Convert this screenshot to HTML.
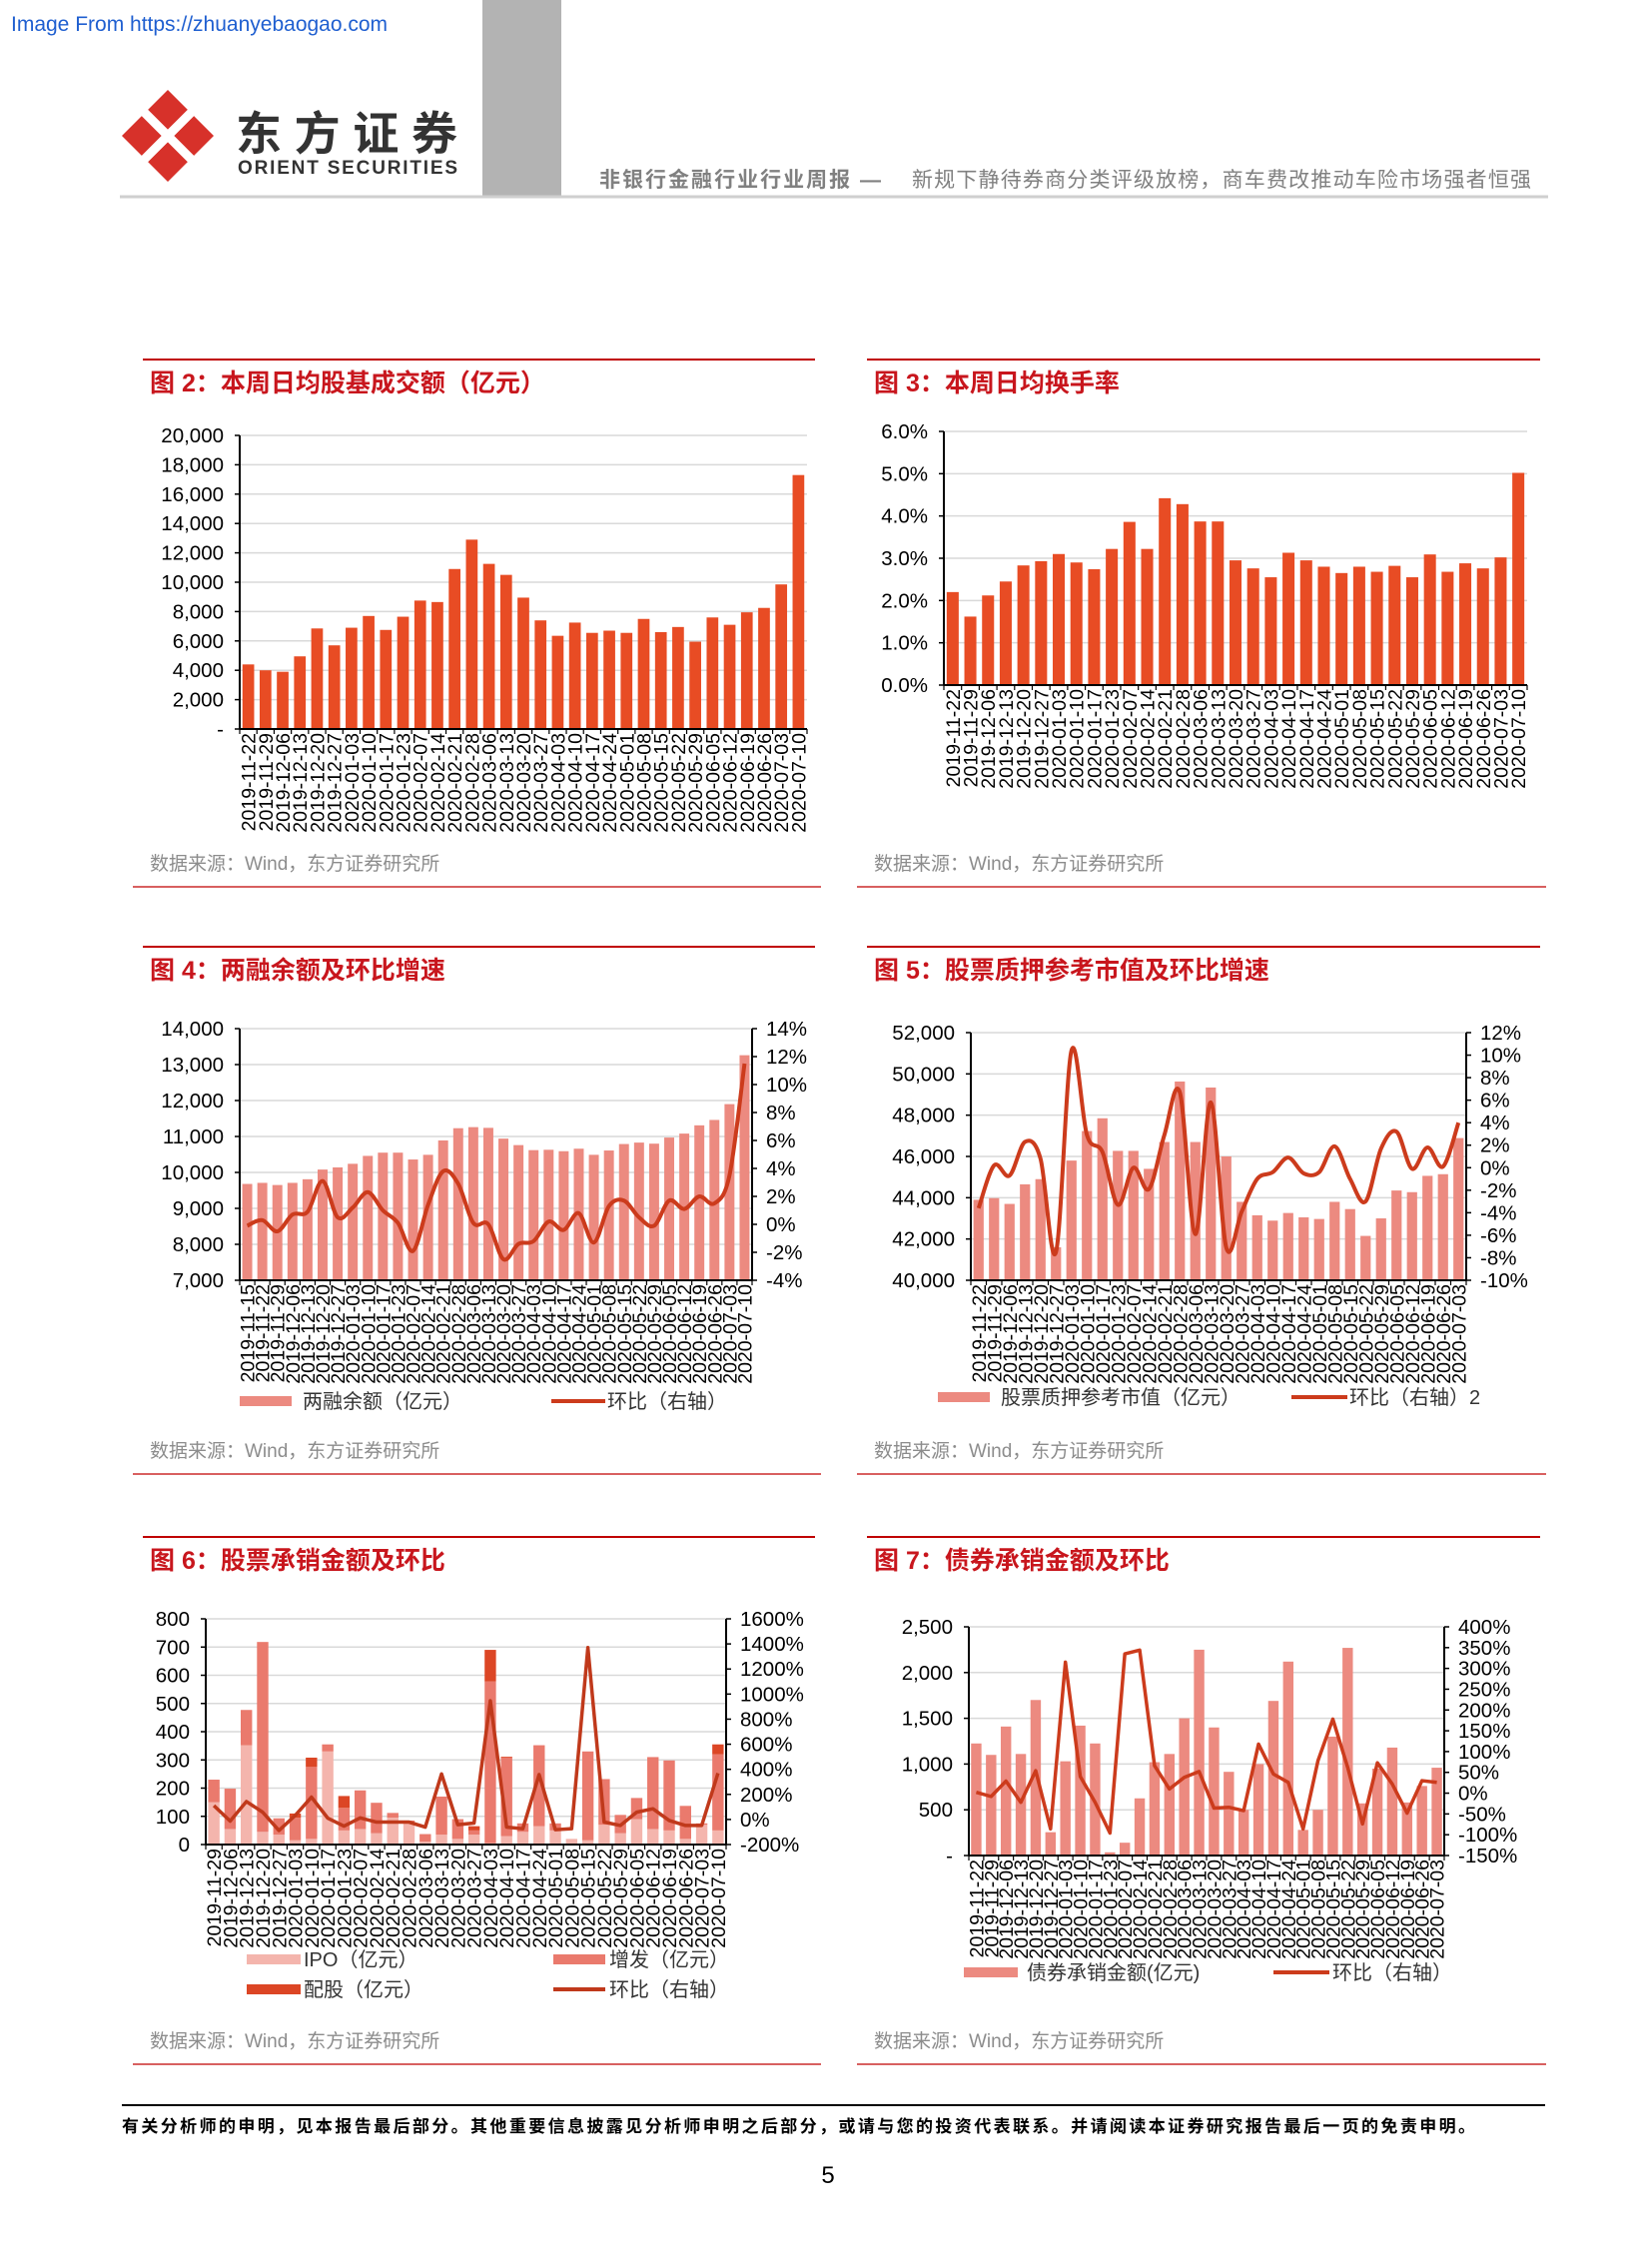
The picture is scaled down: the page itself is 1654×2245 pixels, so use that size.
<!DOCTYPE html>
<html><head><meta charset="utf-8"><title>东方证券 非银行金融行业周报 第5页</title>
<style>
html,body{margin:0;padding:0;background:#fff;}
#page{position:relative;width:1654px;height:2245px;overflow:hidden;background:#fff;}
svg text{font-family:"Liberation Sans","Noto Sans CJK SC",sans-serif;}
</style></head>
<body>
<div id="page">
<svg id="svg" width="1654" height="2245" viewBox="0 0 1654 2245" xmlns="http://www.w3.org/2000/svg">
  <text x="11" y="31" font-size="21" fill="#1f5fd0">Image From https://zhuanyebaogao.com</text>
  <rect x="483" y="0" width="79" height="196" fill="#b3b3b3"/>
  <g>
    <polygon points="168,90 214,136 168,182 122,136" fill="#d7312a"/>
    <line x1="138" y1="106" x2="198" y2="166" stroke="#fff" stroke-width="9"/>
    <line x1="198" y1="106" x2="138" y2="166" stroke="#fff" stroke-width="9"/>
  </g>
  <text x="236" y="150" font-size="46" font-weight="bold" fill="#333" textLength="222">东方证券</text>
  <text x="238" y="174" font-size="19" font-weight="bold" fill="#333" textLength="220">ORIENT SECURITIES</text>
  <text x="600" y="187" font-size="21" font-weight="bold" fill="#808080" textLength="282">非银行金融行业行业周报 —</text>
  <text x="913" y="187" font-size="21" fill="#808080" textLength="620">新规下静待券商分类评级放榜，商车费改推动车险市场强者恒强</text>
  <line x1="120" y1="197" x2="1550" y2="197" stroke="#cfcfcf" stroke-width="3"/>
  <line x1="122" y1="2108" x2="1547" y2="2108" stroke="#000" stroke-width="2"/>
  <text x="122" y="2135" font-size="17" font-weight="bold" fill="#000" textLength="1355">有关分析师的申明，见本报告最后部分。其他重要信息披露见分析师申明之后部分，或请与您的投资代表联系。并请阅读本证券研究报告最后一页的免责申明。</text>
  <text x="829" y="2186" font-size="24" fill="#000" text-anchor="middle">5</text>
</svg>
</div>
<script>
// ---------- data ----------
const c2Cats = ["2019-11-22","2019-11-29","2019-12-06","2019-12-13","2019-12-20","2019-12-27","2020-01-03","2020-01-10","2020-01-17","2020-01-23","2020-02-07","2020-02-14","2020-02-21","2020-02-28","2020-03-06","2020-03-13","2020-03-20","2020-03-27","2020-04-03","2020-04-10","2020-04-17","2020-04-24","2020-05-01","2020-05-08","2020-05-15","2020-05-22","2020-05-29","2020-06-05","2020-06-12","2020-06-19","2020-06-26","2020-07-03","2020-07-10"];
const c2Values = [4400,4000,3900,4950,6850,5700,6900,7700,6750,7650,8750,8650,10900,12900,11250,10500,8950,7400,6350,7250,6550,6700,6550,7500,6600,6950,5950,7600,7100,7950,8250,9850,17300];
const c2Ticks = [0,2000,4000,6000,8000,10000,12000,14000,16000,18000,20000];

const c3Cats = c2Cats.slice();
const c3Values = [2.2,1.62,2.12,2.45,2.83,2.93,3.1,2.9,2.74,3.22,3.86,3.22,4.42,4.28,3.87,3.87,2.95,2.76,2.55,3.13,2.95,2.8,2.65,2.8,2.68,2.82,2.55,3.09,2.68,2.88,2.76,3.02,5.02];
const c3Ticks = [0,1,2,3,4,5,6];

const c4Cats = ["2019-11-15","2019-11-22","2019-11-29","2019-12-06","2019-12-13","2019-12-20","2019-12-27","2020-01-03","2020-01-10","2020-01-17","2020-01-23","2020-02-07","2020-02-14","2020-02-21","2020-02-28","2020-03-06","2020-03-13","2020-03-20","2020-03-27","2020-04-03","2020-04-10","2020-04-17","2020-04-24","2020-05-01","2020-05-08","2020-05-15","2020-05-22","2020-05-29","2020-06-05","2020-06-12","2020-06-19","2020-06-26","2020-07-03","2020-07-10"];
const c4Balance = [9680,9710,9650,9710,9810,10080,10140,10240,10460,10550,10550,10360,10490,10890,11230,11260,11240,10940,10760,10620,10630,10590,10660,10490,10610,10790,10830,10800,10970,11080,11310,11460,11900,13260];
const c4Growth = [-0.1,0.3,-0.5,0.7,0.9,3.1,0.5,1.2,2.3,1.0,0.1,-1.9,1.4,3.8,2.9,0.1,0,-2.5,-1.4,-1.2,0.2,-0.4,0.8,-1.3,1.3,1.7,0.5,-0.1,1.7,1.1,2.0,1.5,3.5,11.5];
const c4LeftTicks = [7000,8000,9000,10000,11000,12000,13000,14000];
const c4RightTicks = [-4,-2,0,2,4,6,8,10,12,14];

const c5Cats = c2Cats.slice(0,32);
const c5Value = [43900,43980,43700,44650,44900,41600,45800,47230,47850,46270,46270,45400,46700,49630,46700,49340,46000,43800,43150,42890,43260,43050,42970,43800,43450,42150,43000,44350,44270,45060,45140,46890];
const c5Growth = [-3.6,0.2,-0.7,2.3,0.8,-7.5,10.4,2.9,1.4,-3.3,0,-1.9,2.9,6.7,-5.9,5.8,-7.1,-3.9,-1.0,-0.4,0.9,-0.5,-0.4,1.9,-1.0,-3.0,1.7,3.2,-0.1,1.8,0.1,4.0];
const c5LeftTicks = [40000,42000,44000,46000,48000,50000,52000];
const c5RightTicks = [-10,-8,-6,-4,-2,0,2,4,6,8,10,12];

const c6Cats = c2Cats.slice(1);
const c6Ipo = [150,55,352,45,35,15,20,330,50,55,40,95,80,10,35,20,35,5,30,45,65,50,20,15,70,40,90,55,50,20,70,50];
const c6Add = [80,143,125,673,58,80,255,25,80,137,108,17,5,27,135,70,15,573,278,30,287,25,0,315,162,65,75,255,248,117,5,270];
const c6Rights = [0,0,0,0,0,15,33,0,42,0,0,0,0,0,0,0,15,112,3,0,0,0,0,0,0,0,0,0,0,0,0,35];
const c6Growth = [111,-13,143,58,-88,32,178,11,-53,13,-21,-21,-21,-61,363,-42,-29,947,-61,-74,358,-82,-74,1371,-21,-48,58,85,-8,-48,-48,369];
const c6LeftTicks = [0,100,200,300,400,500,600,700,800];
const c6RightTicks = [-200,0,200,400,600,800,1000,1200,1400,1600];

const c7Cats = c2Cats.slice(0,32);
const c7Amount = [1225,1100,1410,1110,1700,255,1030,1420,1225,35,140,625,1020,1110,1500,2250,1400,915,500,1000,1690,2120,280,500,1300,2270,570,950,1180,580,760,960];
const c7Growth = [2,-8,29,-22,54,-86,315,40,-22,-96,335,344,66,10,38,52,-36,-34,-42,118,46,26,-86,78,178,62,-74,73,22,-48,30,26];
const c7LeftTicks = [0,500,1000,1500,2000,2500];
const c7RightTicks = [-150,-100,-50,0,50,100,150,200,250,300,350,400];

// ---------- drawing ----------
const NS = "http://www.w3.org/2000/svg";
const svg = document.getElementById('svg');
function mk(tag, parent){ const e=document.createElementNS(NS,tag); parent.appendChild(e); return e; }
function comma(v){ return v.toLocaleString('en-US'); }
function scale(d0,d1,r0,r1){ return v => r0 + (v-d0)/(d1-d0)*(r1-r0); }

function panel(name, titleText, left, right, topY){
  const g = mk('g', svg);
  
  
  const tl = mk('line', g);
  tl.setAttribute('x1', left+10); tl.setAttribute('x2', right-6); tl.setAttribute('y1', topY); tl.setAttribute('y2', topY);
  tl.setAttribute('stroke', '#c00000'); tl.setAttribute('stroke-width', '2');
  
  
  const t = mk('text', g);
  t.setAttribute('x', left+17); t.setAttribute('y', topY+32);
  t.setAttribute('font-size', '25'); t.setAttribute('font-weight', 'bold'); t.setAttribute('fill', '#c8161d');
  t.textContent = titleText;
  
  
  const s = mk('text', g);
  s.setAttribute('x', left+17); s.setAttribute('y', topY+511);
  s.setAttribute('font-size', '19'); s.setAttribute('fill', '#8c8c8c');
  s.textContent = '数据来源：Wind，东方证券研究所';
  
  
  const bl = mk('line', g);
  bl.setAttribute('x1', left); bl.setAttribute('x2', right); bl.setAttribute('y1', topY+528); bl.setAttribute('y2', topY+528);
  bl.setAttribute('stroke', '#c00000'); bl.setAttribute('stroke-width', '1.3');
  
  
  return g;
}

function axesChart(g, cfg){
  const y = scale(cfg.lTicks[0], cfg.lTicks[cfg.lTicks.length-1], cfg.yb, cfg.yt);
  const n = cfg.cats.length, band = (cfg.x1-cfg.x0)/n;
  const xc = i => cfg.x0 + band*(i+0.5);
  cfg.lTicks.forEach(v=>{
    const yy = y(v);
    if (v !== cfg.lTicks[0]) {
      const gl = mk('line', g);
      gl.setAttribute('x1', cfg.x0); gl.setAttribute('x2', cfg.x1); gl.setAttribute('y1', yy); gl.setAttribute('y2', yy);
      gl.setAttribute('stroke', '#d9d9d9'); gl.setAttribute('stroke-width', '1.5');
      
      
    }
    const tk = mk('line', g);
    tk.setAttribute('x1', cfg.x0-5); tk.setAttribute('x2', cfg.x0); tk.setAttribute('y1', yy); tk.setAttribute('y2', yy);
    tk.setAttribute('stroke', '#000'); tk.setAttribute('stroke-width', '1.5');
    
    
    const tl = mk('text', g);
    tl.setAttribute('x', cfg.x0-16); tl.setAttribute('y', yy+7);
    tl.setAttribute('font-size', '20.5'); tl.setAttribute('text-anchor', 'end'); tl.setAttribute('fill', '#000');
    tl.textContent = cfg.lFmt(v);
    
    
  });
  const stackBase = new Array(n).fill(cfg.lTicks[0]);
  cfg.bars.forEach((ser)=>{
    ser.values.forEach((v,i)=>{
      if (v <= 0 && cfg.lTicks[0] === 0) { return; }
      const b0 = stackBase[i], b1 = (cfg.lTicks[0]===0 ? b0 + v : v);
      const r = mk('rect', g);
      r.setAttribute('x', xc(i) - band*cfg.bw/2); r.setAttribute('width', band*cfg.bw);
      r.setAttribute('y', y(b1)); r.setAttribute('height', Math.max(0, y(b0)-y(b1)));
      r.setAttribute('fill', ser.color);
      
      
      if (cfg.lTicks[0]===0) stackBase[i] = b1;
    });
  });
  const ax = mk('line', g);
  ax.setAttribute('x1', cfg.x0); ax.setAttribute('x2', cfg.x0); ax.setAttribute('y1', cfg.yt); ax.setAttribute('y2', cfg.yb);
  ax.setAttribute('stroke', '#000'); ax.setAttribute('stroke-width', '2');
  
  
  const xa = mk('line', g);
  xa.setAttribute('x1', cfg.x0); xa.setAttribute('x2', cfg.x1); xa.setAttribute('y1', cfg.yb); xa.setAttribute('y2', cfg.yb);
  xa.setAttribute('stroke', '#000'); xa.setAttribute('stroke-width', '2');
  
  
  for (let i=0;i<=n;i++){
    const t = mk('line', g);
    t.setAttribute('x1', cfg.x0+band*i); t.setAttribute('x2', cfg.x0+band*i); t.setAttribute('y1', cfg.yb); t.setAttribute('y2', cfg.yb+5);
    t.setAttribute('stroke', '#000'); t.setAttribute('stroke-width', '1.2');
    
    
  }
  cfg.cats.forEach((c,i)=>{
    const t = mk('text', g);
    const tx = xc(i)+7, ty = cfg.yb+4;
    t.setAttribute('x', tx); t.setAttribute('y', ty);
    t.setAttribute('transform', `rotate(-90 ${tx} ${ty})`);
    t.setAttribute('font-size', '19.5'); t.setAttribute('text-anchor', 'end'); t.setAttribute('fill', '#000');
    t.textContent = c;
    
    
  });
  if (cfg.line){
    const ry = scale(cfg.rTicks[0], cfg.rTicks[cfg.rTicks.length-1], cfg.yb, cfg.yt);
    const ra = mk('line', g);
    ra.setAttribute('x1', cfg.x1); ra.setAttribute('x2', cfg.x1); ra.setAttribute('y1', cfg.yt); ra.setAttribute('y2', cfg.yb);
    ra.setAttribute('stroke', '#000'); ra.setAttribute('stroke-width', '2');
    
    
    cfg.rTicks.forEach(v=>{
      const yy = ry(v);
      const tk = mk('line', g);
      tk.setAttribute('x1', cfg.x1); tk.setAttribute('x2', cfg.x1+5); tk.setAttribute('y1', yy); tk.setAttribute('y2', yy);
      tk.setAttribute('stroke', '#000'); tk.setAttribute('stroke-width', '1.5');
      
      
      const tl = mk('text', g);
      tl.setAttribute('x', cfg.x1+14); tl.setAttribute('y', yy+7);
      tl.setAttribute('font-size', '20.5'); tl.setAttribute('fill', '#000');
      tl.textContent = v + '%';
      
      
    });
    const pts = cfg.line.map((v,i)=>[xc(i), ry(v)]);
    let d = 'M' + pts[0][0] + ',' + pts[0][1];
    for (let i=1;i<pts.length;i++){
      if (cfg.smooth){
        const p0 = pts[Math.max(0,i-2)], p1 = pts[i-1], p2 = pts[i], p3 = pts[Math.min(pts.length-1,i+1)];
        const c1x = p1[0]+(p2[0]-p0[0])/6, c1y = p1[1]+(p2[1]-p0[1])/6;
        const c2x = p2[0]-(p3[0]-p1[0])/6, c2y = p2[1]-(p3[1]-p1[1])/6;
        d += ` C${c1x},${c1y} ${c2x},${c2y} ${p2[0]},${p2[1]}`;
      } else d += ' L' + pts[i][0] + ',' + pts[i][1];
    }
    const pl = mk('path', g);
    pl.setAttribute('d', d); pl.setAttribute('fill', 'none');
    pl.setAttribute('stroke', cfg.lineColor); pl.setAttribute('stroke-width', cfg.lw);
    pl.setAttribute('stroke-linejoin', 'round');
    
    
  }
}

function legend(g, items){
  items.forEach(it=>{
    const s = mk(it.kind==='line'?'line':'rect', g);
    if (it.kind==='line'){
      s.setAttribute('x1', it.x); s.setAttribute('x2', it.x+it.w); s.setAttribute('y1', it.y); s.setAttribute('y2', it.y);
      s.setAttribute('stroke', it.color); s.setAttribute('stroke-width', '4');
    } else {
      s.setAttribute('x', it.x); s.setAttribute('y', it.y-5); s.setAttribute('width', it.w); s.setAttribute('height', 10);
      s.setAttribute('fill', it.color);
    }
    
    
    const t = mk('text', g);
    t.setAttribute('x', it.tx); t.setAttribute('y', it.y+7);
    t.setAttribute('font-size', '20'); t.setAttribute('fill', '#333');
    t.textContent = it.label;
    
    
  });
}

const RED = '#e84c24', SALMON = '#ec8a80', LINE = '#cc3b1c';

// Chart 2
let g = panel('chart-fig2', '图 2：本周日均股基成交额（亿元）', 133, 822, 360);
axesChart(g, {x0:240,x1:808,yt:436,yb:730,lTicks:c2Ticks,lFmt:v=>v===0?'-':comma(v),cats:c2Cats,bw:0.68,
  bars:[{name:'turnover-bar',values:c2Values,color:RED}]});
// Chart 3
g = panel('chart-fig3', '图 3：本周日均换手率', 858, 1548, 360);
axesChart(g, {x0:945,x1:1529,yt:432,yb:686,lTicks:c3Ticks,lFmt:v=>v.toFixed(1)+'%',cats:c3Cats,bw:0.68,
  bars:[{name:'turnover-rate-bar',values:c3Values,color:RED}]});
// Chart 4
g = panel('chart-fig4', '图 4：两融余额及环比增速', 133, 822, 948);
axesChart(g, {x0:240,x1:753,yt:1030,yb:1282,lTicks:c4LeftTicks,lFmt:comma,cats:c4Cats,bw:0.66,
  bars:[{name:'margin-balance-bar',values:c4Balance,color:SALMON}],line:c4Growth,rTicks:c4RightTicks,smooth:true,lineColor:LINE,lw:4});
legend(g, [{kind:'rect',x:240,y:1403,w:52,tx:303,color:SALMON,label:'两融余额（亿元）'},{kind:'line',x:552,y:1403,w:54,tx:608,color:LINE,label:'环比（右轴）'}]);
// Chart 5
g = panel('chart-fig5', '图 5：股票质押参考市值及环比增速', 858, 1548, 948);
axesChart(g, {x0:972,x1:1468,yt:1034,yb:1282,lTicks:c5LeftTicks,lFmt:comma,cats:c5Cats,bw:0.66,
  bars:[{name:'pledge-value-bar',values:c5Value,color:SALMON}],line:c5Growth,rTicks:c5RightTicks,smooth:true,lineColor:LINE,lw:4});
legend(g, [{kind:'rect',x:939,y:1399,w:52,tx:1002,color:SALMON,label:'股票质押参考市值（亿元）'},{kind:'line',x:1293,y:1399,w:56,tx:1351,color:LINE,label:'环比（右轴）2'}]);
// Chart 6
g = panel('chart-fig6', '图 6：股票承销金额及环比', 133, 822, 1539);
axesChart(g, {x0:206,x1:727,yt:1621,yb:1847,lTicks:c6LeftTicks,lFmt:v=>String(v),cats:c6Cats,bw:0.7,
  bars:[{name:'ipo-bar',values:c6Ipo,color:'#f4b5ad'},{name:'additional-issue-bar',values:c6Add,color:'#ea7a6d'},{name:'rights-issue-bar',values:c6Rights,color:'#dc4625'}],
  line:c6Growth,rTicks:c6RightTicks,smooth:false,lineColor:'#c0391b',lw:3.5});
legend(g, [{kind:'rect',x:247,y:1962,w:54,tx:304,color:'#f4b5ad',label:'IPO（亿元）'},{kind:'rect',x:554,y:1962,w:52,tx:610,color:'#ea7a6d',label:'增发（亿元）'},
  {kind:'rect',x:247,y:1992,w:54,tx:304,color:'#dc4625',label:'配股（亿元）'},{kind:'line',x:554,y:1992,w:52,tx:610,color:'#c0391b',label:'环比（右轴）'}]);
// Chart 7
g = panel('chart-fig7', '图 7：债券承销金额及环比', 858, 1548, 1539);
axesChart(g, {x0:970,x1:1446,yt:1629,yb:1858,lTicks:c7LeftTicks,lFmt:v=>v===0?'-':comma(v),cats:c7Cats,bw:0.7,
  bars:[{name:'bond-underwriting-bar',values:c7Amount,color:SALMON}],line:c7Growth,rTicks:c7RightTicks,smooth:false,lineColor:LINE,lw:3.5});
legend(g, [{kind:'rect',x:965,y:1975,w:54,tx:1028,color:SALMON,label:'债券承销金额(亿元)'},{kind:'line',x:1275,y:1975,w:56,tx:1334,color:LINE,label:'环比（右轴）'}]);
</script>
</body></html>
